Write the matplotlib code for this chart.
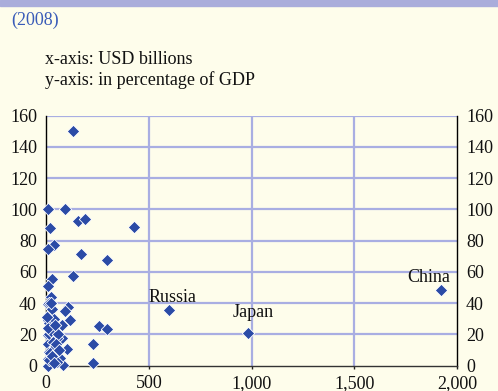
import matplotlib
matplotlib.use("Agg")
import matplotlib.pyplot as plt
from matplotlib.patches import Rectangle

# Reserve holdings (USD billions) vs. share of GDP, 2008
reserves_usd_bn = [
    130, 11, 94, 154, 190, 428, 21, 37, 11, 170, 298, 131, 28, 11, 24, 11,
    108, 92, 117, 11, 76, 259, 298, 11, 227, 11, 100, 11, 227, 84, 11,
    15, 15, 15, 15, 15, 15, 76, 68, 52, 30, 40, 25, 55, 35, 45, 60, 20,
    8, 30, 50, 22, 65, 38, 5, 42,
]
pct_of_gdp = [
    150, 100, 100, 92.8, 94, 89, 88, 77.5, 75, 71.3, 67.6, 57.2, 55.7, 51, 43.8, 39.3,
    37.4, 35.2, 29.2, 29, 25.8, 25.6, 23.3, 19.6, 13.7, 13.7, 10.5, 4.3, 1.5, 0.4, 0,
    40.3, 32.4, 27.1, 20.1, 9, 3.6, 17.5, 4.7, 2.6, 36, 30, 22, 18, 15, 12, 20, 8,
    24, 6, 14, 40, 10, 2, 31, 26,
]

labelled_names = ["Russia", "Japan", "China"]
labelled_x = [597, 985, 1922]
labelled_y = [35.4, 21.1, 48.3]

x_ticks = [0, 500, 1000, 1500, 2000]
x_tick_labels = ["0", "500", "1,000", "1,500", "2,000"]
y_ticks = [0, 20, 40, 60, 80, 100, 120, 140, 160]

BG = "#FEFDEB"
GRID = "#A9AEE2"
MARK = "#2B4BA6"
SERIF = ["Liberation Serif", "DejaVu Serif"]
FS = 13

fig = plt.figure(figsize=(4.98, 3.91), dpi=100, facecolor=BG)
fig.patches.append(Rectangle((0, 1 - 6 / 391), 1, 6 / 391, transform=fig.transFigure,
                             color="#AAADDB", zorder=0))

fig.text(11 / 498, 1 - 20 / 391, "(2008)", color="#3A5CB8", fontsize=FS,
         family=SERIF, va="center", ha="left")
fig.text(45 / 498, 1 - 60 / 391, "x-axis: USD billions", color="#111111",
         fontsize=FS, family=SERIF, va="center", ha="left")
fig.text(45 / 498, 1 - 80 / 391, "y-axis: in percentage of GDP", color="#111111",
         fontsize=FS, family=SERIF, va="center", ha="left")

ax = fig.add_axes([46 / 498, 1 - 365.7 / 391, 411 / 498, 250 / 391])
ax.set_facecolor(BG)
ax.set_xlim(0, 2000)
ax.set_ylim(0, 160)

for v in y_ticks[1:]:
    ax.axhline(v, color=GRID, lw=1.6, zorder=1)
for v in x_ticks[1:-1]:
    ax.axvline(v, color=GRID, lw=1.6, zorder=1)

all_x = reserves_usd_bn + labelled_x
all_y = pct_of_gdp + labelled_y
ax.scatter(all_x, all_y, marker="D", s=40, color=MARK, edgecolor="white",
           linewidth=0.6, zorder=3, clip_on=False)

offsets = [(3, 6), (3.4, 11.3), (-8.6, 6)]
for name, xv, yv, (dx, dy) in zip(labelled_names, labelled_x, labelled_y, offsets):
    ax.annotate(name, (xv, yv), xytext=(dx, dy), textcoords="offset points",
                ha="center", va="baseline", fontsize=FS, family=SERIF,
                color="#111111", zorder=4)

ax.set_xticks(x_ticks)
ax.set_xticklabels(x_tick_labels)
ax.set_yticks(y_ticks)
ax.tick_params(axis="x", length=2.5, width=1, color="#222222", pad=4.5,
               labelsize=FS, labelfontfamily=SERIF[0])
ax.tick_params(axis="y", length=0, pad=6.5, labelsize=FS, left=True, right=True,
               labelleft=True, labelright=True, labelfontfamily=SERIF[0])
for lbl in ax.get_xticklabels() + ax.get_yticklabels():
    lbl.set_color("#111111")

ax.spines["top"].set_visible(False)
ax.spines["left"].set_color("black")
ax.spines["right"].set_color("black")
ax.spines["bottom"].set_color("#333333")
for s in ("left", "right", "bottom"):
    ax.spines[s].set_linewidth(1.0)
    ax.spines[s].set_zorder(2)

fig.savefig("out.png", dpi=100, facecolor=BG)
